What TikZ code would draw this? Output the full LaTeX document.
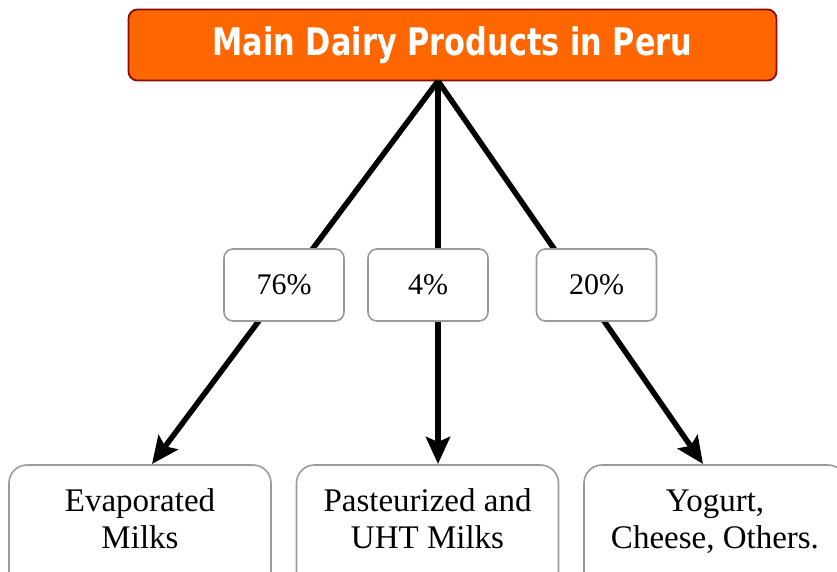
\documentclass[tikz,border=0pt]{standalone}
\usepackage{fontspec}
\setmainfont{Liberation Serif}
\newfontfamily\titlefont{DejaVu Sans}
\usetikzlibrary{arrows.meta}
\definecolor{titleorange}{HTML}{FF6600}
\definecolor{titleedge}{HTML}{8B0A0A}
\definecolor{boxgray}{HTML}{9A9A9A}
\begin{document}
\begin{tikzpicture}[x=1pt,y=-1pt,
  titlebox/.style={draw=titleedge,fill=titleorange,line width=1.8pt,rounded corners=9pt,
    minimum width=648pt,minimum height=71pt,inner sep=0pt,
    font=\titlefont\bfseries\fontsize{38}{42}\selectfont,text=white},
  pctbox/.style={draw=boxgray,fill=white,line width=1.6pt,rounded corners=9pt,
    minimum width=120pt,minimum height=72pt,inner sep=0pt,
    font=\fontsize{30}{34}\selectfont},
  leafbox/.style={draw=boxgray,fill=white,line width=1.6pt,rounded corners=18pt,
    minimum width=262pt,minimum height=140pt,inner sep=0pt},
  leaftext/.style={align=center,font=\fontsize{33}{37}\selectfont,inner sep=0pt},
  link/.style={line width=5.5pt,-{Stealth[length=27pt,width=24pt,inset=5pt]}}
]
\useasboundingbox (0,0) rectangle (837,571);
\clip (0,0) rectangle (837,571);
% title
\node[titlebox] (title) at (452.5,45) {\scalebox{0.8}[1]{Main Dairy Products in Peru}};
\coordinate (apex) at (438,81);
% leaves (boxes)
\node[leafbox] (l1) at (140,535) {};
\node[leafbox] (l2) at (427.5,535) {};
\node[leafbox] (l3) at (715,535) {};
\coordinate (t1) at (152,464);
\coordinate (t2) at (438,464);
\coordinate (t3) at (703,464);
% connectors
\draw[link] (apex) -- (t1);
\draw[link] (apex) -- (t2);
\draw[link] (apex) -- (t3);
% percentage labels
\node[pctbox] (p1) at (284,285) {76\%};
\node[pctbox] (p2) at (428,285) {4\%};
\node[pctbox] (p3) at (596.5,285) {20\%};
% leaf texts
\node[leaftext] (e1) at (140,523) {\strut Evaporated\\\strut Milks};
\node[leaftext] (e2) at (427.5,523) {\strut Pasteurized and\\\strut UHT Milks};
\node[leaftext] (e3) at (715,523) {\strut Yogurt,\\\strut Cheese, Others.};
\end{tikzpicture}
\end{document}
